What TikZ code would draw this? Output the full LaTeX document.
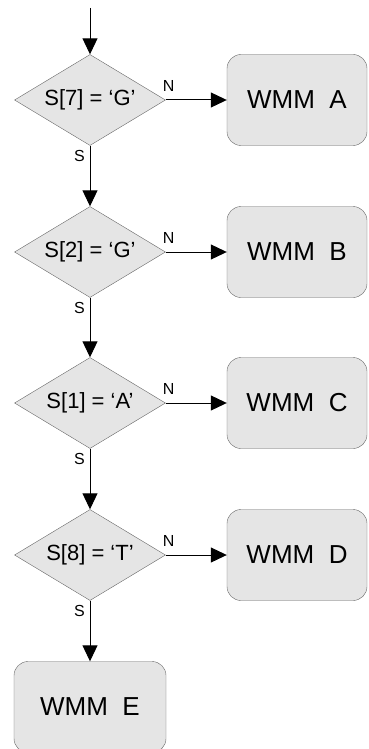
\documentclass[tikz,border=0pt]{standalone}
\usepackage{fontspec}
\setmainfont{Liberation Sans}
\usepackage{tikz}
\usetikzlibrary{arrows.meta,shapes.geometric,positioning}

\tikzset{
    test/.style={diamond, draw=black!60, fill=black!10, aspect=1.66,
        minimum width=151pt, minimum height=91pt, inner sep=0pt,
        font=\fontsize{22}{24}\selectfont},
    wmm/.style={rectangle, rounded corners=14pt, draw=black!60, fill=black!10,
        minimum width=140pt, minimum height=91pt,
        font=\fontsize{26}{28}\selectfont},
    flow/.style={line width=1pt, -{Triangle[length=16pt,width=15pt]}},
    tag/.style={inner sep=0pt, font=\fontsize{16}{18}\selectfont},
}

\begin{document}
\begin{tikzpicture}[x=1pt, y=-1pt]
    \useasboundingbox (0,0) rectangle (368,749);

    % Tests on the sequence
    \coordinate (in) at (90,8);
    \node[test] (t7) at (90,100) {S[7] = ‘G’};
    \node[test] (t2) at (90,252) {S[2] = ‘G’};
    \node[test] (t1) at (90,403) {S[1] = ‘A’};
    \node[test] (t8) at (90,555) {S[8] = ‘T’};

    % Models
    \node[wmm] (ma) at (297,100) {WMM\ \ A};
    \node[wmm] (mb) at (297,252) {WMM\ \ B};
    \node[wmm] (mc) at (297,403) {WMM\ \ C};
    \node[wmm] (md) at (297,555) {WMM\ \ D};
    \node[wmm, minimum width=152pt] (me) at (90,707) {WMM\ \ E};

    % "S" branch going down
    \draw[flow] (in) -- (t7.north);
    \draw[flow] (t7.south) -- (t2.north);
    \draw[flow] (t2.south) -- (t1.north);
    \draw[flow] (t1.south) -- (t8.north);
    \draw[flow] (t8.south) -- (me.north);

    % "N" branch going right
    \draw[flow] (t7.east) -- (ma.west);
    \draw[flow] (t2.east) -- (mb.west);
    \draw[flow] (t1.east) -- (mc.west);
    \draw[flow] (t8.east) -- (md.west);

    % Branch labels
    \node[tag, anchor=south west] (n7) at ([xshift=-3pt,yshift=8pt]t7.east) {N};
    \node[tag, anchor=south west] (n2) at ([xshift=-3pt,yshift=8pt]t2.east) {N};
    \node[tag, anchor=south west] (n1) at ([xshift=-3pt,yshift=8pt]t1.east) {N};
    \node[tag, anchor=south west] (n8) at ([xshift=-3pt,yshift=8pt]t8.east) {N};
    \node[tag, anchor=north east] (s7) at ([xshift=-5pt,yshift=-4pt]t7.south) {S};
    \node[tag, anchor=north east] (s2) at ([xshift=-5pt,yshift=-4pt]t2.south) {S};
    \node[tag, anchor=north east] (s1) at ([xshift=-5pt,yshift=-4pt]t1.south) {S};
    \node[tag, anchor=north east] (s8) at ([xshift=-5pt,yshift=-4pt]t8.south) {S};
\end{tikzpicture}
\end{document}
